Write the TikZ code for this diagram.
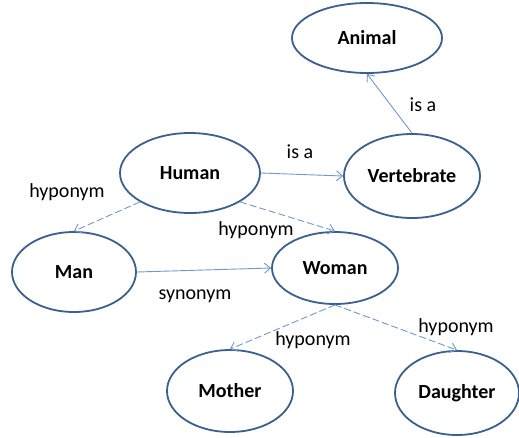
\documentclass[tikz,border=0pt]{standalone}
\usepackage{fontspec}
\setmainfont{Carlito}
\usetikzlibrary{shapes.geometric,arrows.meta}

\definecolor{rimblue}{HTML}{3B5F8E}
\definecolor{linkblue}{HTML}{6F98CC}

\tikzset{
  concept/.style={ellipse, draw=rimblue, line width=1.8pt, inner sep=0pt,
    font=\fontsize{20}{24}\selectfont\bfseries},
  link/.style={-{Straight Barb[length=6pt,width=10pt]}, draw=linkblue, line width=0.9pt},
  hyplink/.style={link, dash pattern=on 7pt off 3pt},
  rel/.style={font=\fontsize{20}{24}\selectfont, inner sep=0pt}
}

\begin{document}
\begin{tikzpicture}[x=1pt,y=-1pt]
        \useasboundingbox (0,0) rectangle (519,437);

        % concepts
        \node[concept, minimum width=150pt, minimum height=70pt] (animal) at (367,38) {Animal};
        \node[concept, minimum width=136pt, minimum height=84pt] (vert) at (412,176) {Vertebrate};
        \node[concept, minimum width=140pt, minimum height=80pt] (human) at (190,173) {Human};
        \node[concept, minimum width=124pt, minimum height=80pt] (man) at (74,272) {Man};
        \node[concept, minimum width=126pt, minimum height=72pt] (woman) at (335,268) {Woman};
        \node[concept, minimum width=126pt, minimum height=82pt] (mother) at (230,391) {Mother};
        \node[concept, minimum width=124pt, minimum height=84pt] (daughter) at (457,393) {Daughter};

        % relations
        \draw[link] (human.east) -- (vert.west);
        \draw[link] (vert.north) -- (animal.south);
        \draw[hyplink] (human.south west) -- (man.north);
        \draw[hyplink] (human.south east) -- (woman.north);
        \draw[link] (man.east) -- (woman.west);
        \draw[hyplink] (woman.south) -- (mother.north);
        \draw[hyplink] (woman.south) -- (daughter.north);

        \node[rel] (isa1) at (300,152) {is a};
        \node[rel] (isa2) at (423,105) {is a};
        \node[rel] (hyp1) at (67,192) {hyponym};
        \node[rel] (hyp2) at (256,230) {hyponym};
        \node[rel] (syn) at (195,296) {synonym};
        \node[rel] (hyp3) at (313,340) {hyponym};
        \node[rel] (hyp4) at (456,327) {hyponym};
      \end{tikzpicture}
\end{document}
